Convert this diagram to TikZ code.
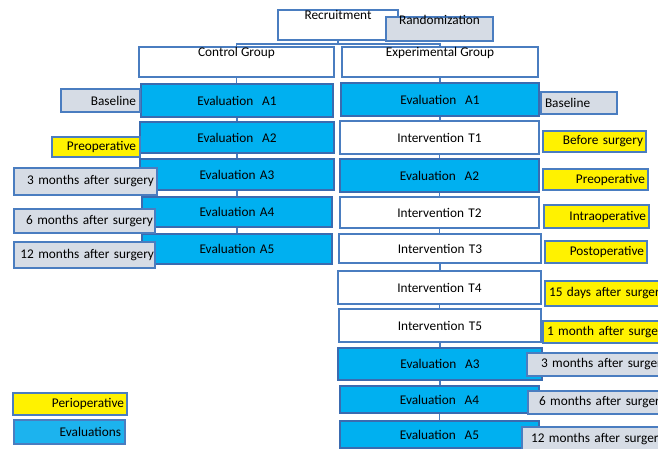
\documentclass[tikz,border=0pt]{standalone}
\usepackage{fontspec}
\setmainfont{Carlito}
\definecolor{evalc}{HTML}{00B0F0}
\definecolor{legevalc}{HTML}{1CB3EE}
\definecolor{evalbord}{HTML}{3A6BB0}
\definecolor{bordc}{HTML}{4A7DC0}
\definecolor{grayc}{HTML}{D6DCE5}
\definecolor{connc}{HTML}{4A7DC0}
\tikzset{
  x=1pt, y=-1pt,
  base/.style={draw=bordc, line width=1.3pt, inner sep=0pt, font=\fontsize{13.3}{15}\selectfont, text=black},
  evalbox/.style={base, fill=evalc, draw=evalbord},
  legevalbox/.style={base, fill=legevalc},
  whitebox/.style={base, fill=white},
  graybox/.style={base, fill=grayc},
  yellowbox/.style={base, fill=yellow},
  toplab/.style={font=\fontsize{13.3}{15}\selectfont, inner sep=0.5pt, anchor=north},
  conn/.style={draw=connc, line width=1.3pt},
}
% #1 pad, #2 style, #3 name, #4 x1, #5 y1, #6 x2, #7 y2, #8 align, #9 text
\newcommand\bx[9][4]{%
  \pgfmathsetmacro\bxw{#6-#4}%
  \pgfmathsetmacro\bxh{#7-#5}%
  \pgfmathsetmacro\bxt{#6-#4-2*#1}%
  \pgfmathsetmacro\bxcx{(#4+#6)/2}%
  \pgfmathsetmacro\bxcy{(#5+#7)/2}%
  \node[#2, minimum width=\bxw pt, minimum height=\bxh pt, text width=\bxt pt, align=#8] (#3) at (\bxcx,\bxcy) {#9};}
% top-labelled box: #1 style, #2 name, #3 x1, #4 y1, #5 x2, #6 y2, #7 yshift, #8 text
\newcommand\tbx[8]{%
  \pgfmathsetmacro\bxw{#5-#3}%
  \pgfmathsetmacro\bxh{#6-#4}%
  \pgfmathsetmacro\bxcx{(#3+#5)/2}%
  \pgfmathsetmacro\bxcy{(#4+#6)/2}%
  \node[#1, minimum width=\bxw pt, minimum height=\bxh pt, label={[toplab, yshift=#7]north:#8}] (#2) at (\bxcx,\bxcy) {};}
\begin{document}
\begin{tikzpicture}
\useasboundingbox (0,0) rectangle (658,449);
\clip (0,0) rectangle (658,449);
% top
\tbx{whitebox}{rec}{278}{10}{398}{40}{0pt}{Recruitment}
\tbx{graybox}{rand}{386}{17}{493}{41}{2pt}{Randomization}
\tbx{whitebox}{cg}{139}{47}{334}{77}{0pt}{Control Group}
\tbx{whitebox}{eg}{342}{47}{538}{77}{0pt}{Experimental Group}
% left column
\bx{evalbox}{la1}{141}{84}{333}{117}{center}{Evaluation\ \ A1}
\bx{evalbox}{la2}{140}{122}{334}{153}{center}{Evaluation\ \ A2}
\bx{evalbox}{la3}{140}{159}{334}{190}{center}{Evaluation A3}
\bx{evalbox}{la4}{142}{197}{332}{227}{center}{Evaluation A4}
\bx{evalbox}{la5}{142}{234}{332}{264}{center}{Evaluation A5}
% right column
\bx{evalbox}{ra1}{341}{83}{539}{116}{center}{Evaluation\ \ A1}
\bx{whitebox}{rt1}{340}{121}{539}{154}{center}{Intervention T1}
\bx{evalbox}{ra2}{340}{159}{539}{192}{center}{Evaluation\ \ A2}
\bx{whitebox}{rt2}{340}{197}{539}{228}{center}{Intervention T2}
\bx{whitebox}{rt3}{339}{234}{541}{263}{center}{Intervention T3}
\bx{whitebox}{rt4}{338}{271}{541}{304}{center}{Intervention T4}
\bx{whitebox}{rt5}{339}{309}{541}{342}{center}{Intervention T5}
\bx{evalbox}{ra3}{338}{348}{542}{380}{center}{Evaluation\ \ A3}
\bx{evalbox}{ra4}{340}{386}{539}{413}{center}{Evaluation\ \ A4}
\bx{evalbox}{ra5}{340}{421}{539}{448}{center}{Evaluation\ \ A5}
% left labels
\bx{graybox}{lbase}{61}{89}{140}{112}{right}{Baseline}
\bx{yellowbox}{lpre}{52}{137}{140}{157}{right}{Preoperative}
\bx[3]{graybox}{l3m}{14}{168}{157}{195}{right}{3 months after surgery}
\bx[2]{graybox}{l6m}{14}{209}{155}{233}{right}{6 months after surgery}
\bx[1]{graybox}{l12m}{14}{242}{155}{268}{right}{12 months after surgery}
% right labels
\bx{graybox}{rbase}{541}{92}{617}{114}{left}{Baseline}
\bx[3]{yellowbox}{rbefore}{543}{131}{646}{152}{right}{Before surgery}
\bx[3]{yellowbox}{rpre}{543}{169}{648}{190}{right}{Preoperative}
\bx[3]{yellowbox}{rintra}{544}{205}{649}{228}{right}{Intraoperative}
\bx[3]{yellowbox}{rpost}{545}{241}{647}{263}{right}{Postoperative}
\bx[4]{yellowbox}{r15}{545}{281}{710}{306}{left}{15 days after surgery}
\bx[4]{yellowbox}{r1m}{543}{321}{710}{343}{left}{1 month after surgery}
\bx[14]{graybox}{r3m}{527}{353}{710}{376}{left}{3 months after surgery}
\bx[11]{graybox}{r6m}{528}{391}{710}{414}{left}{6 months after surgery}
\bx[9]{graybox}{r12m}{522}{427}{710}{452}{left}{12 months after surgery}
% legend
\bx[3]{yellowbox}{leg1}{13}{393}{127}{415}{right}{Perioperative}
\bx[4]{legevalbox}{leg2}{14}{420}{125}{444}{right}{Evaluations}
% connectors
\coordinate (bus) at (338,44);
\draw[conn] (rec.south) -- (bus) -| (cg.north);
\draw[conn] (bus) -| (eg.north);
\foreach \a/\b in {cg/la1, la1/la2, la2/la3, la3/la4, la4/la5}
  \draw[conn] (\a.south) -- (\a.south |- \b.north);
\foreach \a/\b in {eg/ra1, ra1/rt1, rt1/ra2, ra2/rt2, rt2/rt3, rt3/rt4, rt4/rt5, rt5/ra3, ra3/ra4, ra4/ra5}
  \draw[conn] (\a.south) -- (\a.south |- \b.north);
\end{tikzpicture}
\end{document}
